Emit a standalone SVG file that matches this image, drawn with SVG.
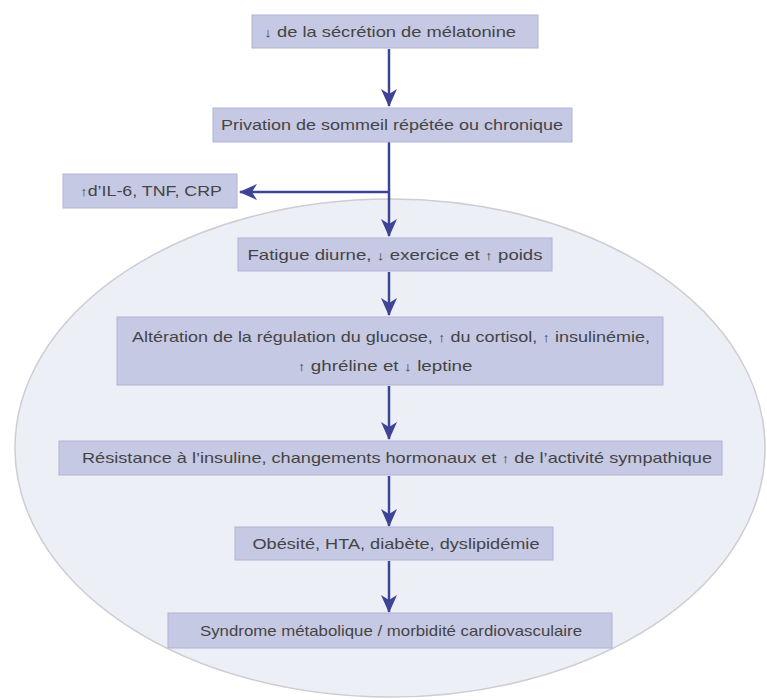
<svg xmlns="http://www.w3.org/2000/svg" width="767" height="700" viewBox="0 0 767 700">
<defs>
<style>
.box{fill:#c6c9e4;stroke:#b0b3d6;stroke-width:1}
.t{font-family:"Liberation Sans",Arial,sans-serif;font-size:15px;fill:#444444;text-anchor:middle}
.ar{font-size:13px}
.c{stroke:#3d4496;stroke-width:2.5;fill:none}
</style>
<marker id="ah" markerUnits="userSpaceOnUse" markerWidth="18" markerHeight="18" viewBox="0 0 18 18" refX="17" refY="9" orient="auto">
<path d="M0,1 L18,9 L0,17 L5,9 Z" fill="#3d4496"/>
</marker>
</defs>
<rect width="767" height="700" fill="#ffffff"/>
<ellipse cx="390" cy="448" rx="375" ry="249" fill="#edeff7" stroke="#cdcdd2" stroke-width="1.5"/>
<g id="connectors">
<line class="c" x1="389" y1="49" x2="389" y2="106" marker-end="url(#ah)"/>
<line class="c" x1="389" y1="142" x2="389" y2="236" marker-end="url(#ah)"/>
<line class="c" x1="389" y1="192" x2="240" y2="192" marker-end="url(#ah)"/>
<line class="c" x1="389" y1="272" x2="389" y2="315" marker-end="url(#ah)"/>
<line class="c" x1="389" y1="386" x2="389" y2="439" marker-end="url(#ah)"/>
<line class="c" x1="389" y1="476" x2="389" y2="526" marker-end="url(#ah)"/>
<line class="c" x1="389" y1="561" x2="389" y2="612" marker-end="url(#ah)"/>
</g>
<g id="n1"><rect class="box" x="252" y="15" width="286" height="33"/>
<text class="t" x="390" y="37" textLength="252" lengthAdjust="spacingAndGlyphs"><tspan class="ar">↓</tspan> de la sécrétion de mélatonine</text></g>
<g id="n2"><rect class="box" x="213" y="108" width="359" height="34"/>
<text class="t" x="392" y="130" textLength="342" lengthAdjust="spacingAndGlyphs">Privation de sommeil répétée ou chronique</text></g>
<g id="n3"><rect class="box" x="63" y="174" width="174" height="34"/>
<text class="t" x="151" y="196" textLength="142" lengthAdjust="spacingAndGlyphs"><tspan class="ar">↑</tspan>d’IL-6, TNF, CRP</text></g>
<g id="n4"><rect class="box" x="238" y="238" width="314" height="33"/>
<text class="t" x="395" y="260" textLength="295" lengthAdjust="spacingAndGlyphs">Fatigue diurne, <tspan class="ar">↓</tspan> exercice et <tspan class="ar">↑</tspan> poids</text></g>
<g id="n5"><rect class="box" x="117" y="317" width="546" height="68"/>
<text class="t" x="391" y="342" textLength="518" lengthAdjust="spacingAndGlyphs">Altération de la régulation du glucose, <tspan class="ar">↑</tspan> du cortisol, <tspan class="ar">↑</tspan> insulinémie,</text>
<text class="t" x="385" y="371" textLength="175" lengthAdjust="spacingAndGlyphs"><tspan class="ar">↑</tspan> ghréline et <tspan class="ar">↓</tspan> leptine</text></g>
<g id="n6"><rect class="box" x="59" y="441" width="663" height="34"/>
<text class="t" x="397" y="463" textLength="630" lengthAdjust="spacingAndGlyphs">Résistance à l’insuline, changements hormonaux et <tspan class="ar">↑</tspan> de l’activité sympathique</text></g>
<g id="n7"><rect class="box" x="235" y="527" width="318" height="33"/>
<text class="t" x="396" y="549" textLength="287" lengthAdjust="spacingAndGlyphs">Obésité, HTA, diabète, dyslipidémie</text></g>
<g id="n8"><rect class="box" x="168" y="613" width="444" height="35"/>
<text class="t" x="391" y="636" textLength="382" lengthAdjust="spacingAndGlyphs">Syndrome métabolique / morbidité cardiovasculaire</text></g>
</svg>
